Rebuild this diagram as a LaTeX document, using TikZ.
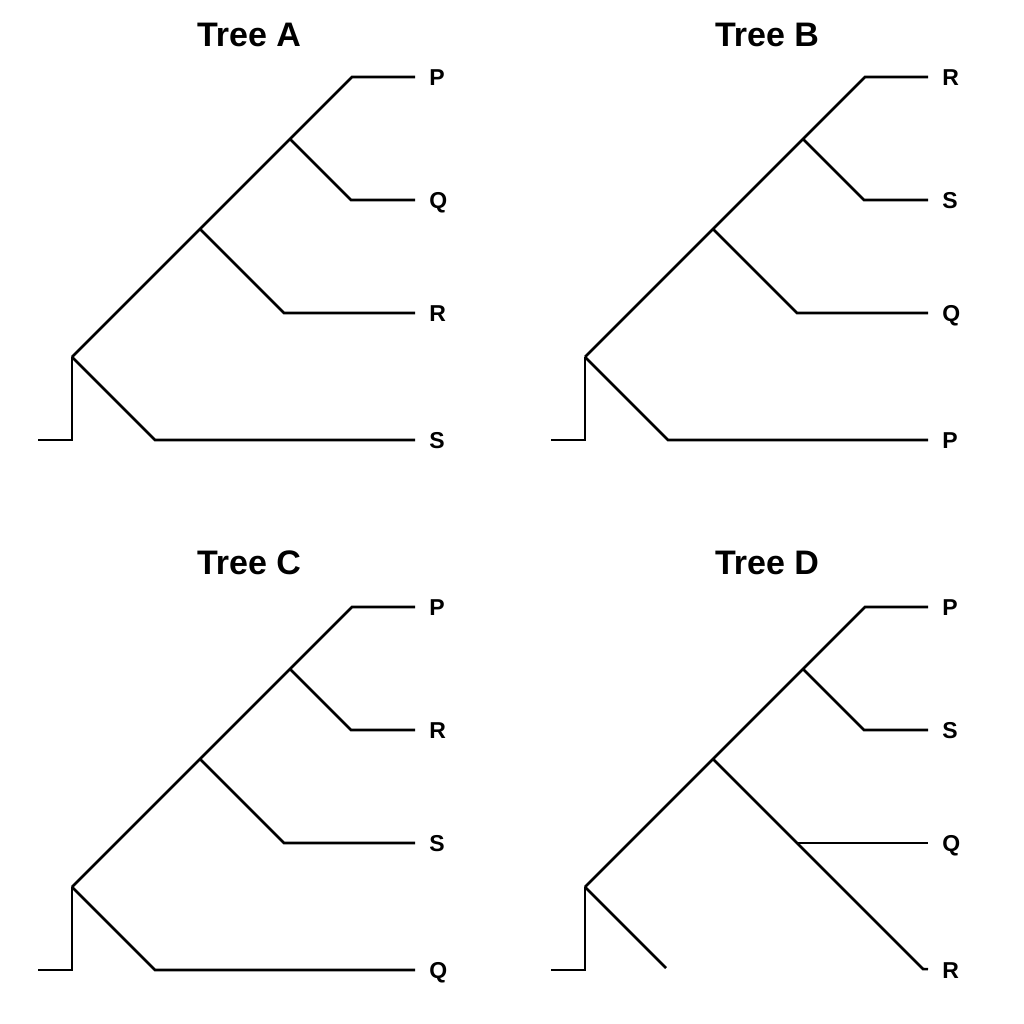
\documentclass[tikz,border=0pt]{standalone}
\usepackage{fontspec}
\setmainfont{Liberation Sans}
\usepackage{tikz}

\begin{document}
\begin{tikzpicture}[x=1pt, y=-1pt, line width=2.6pt,
	title/.style={font=\bfseries\fontsize{34}{40}\selectfont},
	leaf/.style={anchor=west, inner xsep=13pt, inner ysep=0pt, text height=16.5pt, text depth=0pt, font=\bfseries\fontsize{23}{28}\selectfont}]
	\useasboundingbox (0,0) rectangle (1024,1024);
	% Tree A
	\node[title] (titleA) at (249,35) {Tree A};
	\coordinate (a0) at (38,440);
	\coordinate (a1) at (72,357);
	\coordinate (a2) at (200,229);
	\coordinate (a3) at (290,139);
	\coordinate (a4) at (352,77);
	\coordinate (a5) at (155,440);
	\coordinate (a6) at (284,313);
	\coordinate (a7) at (351,200);
	\node[leaf] (aP) at (415,77) {P};
	\node[leaf] (aQ) at (415,200) {Q};
	\node[leaf] (aR) at (415,313) {R};
	\node[leaf] (aS) at (415,440) {S};
	\draw[-] (a0) -| (a1);
	\draw[-] (a1) -- (a2) -- (a3) -- (a4) -- (aP);
	\draw[-] (a1) -- (a5) -- (aS);
	\draw[-] (a2) -- (a6) -- (aR);
	\draw[-] (a3) -- (a7) -- (aQ);
	% Tree B
	\begin{scope}[shift={(513,0)}]
	\node[title] (titleB) at (254,35) {Tree B};
	\coordinate (b0) at (38,440);
	\coordinate (b1) at (72,357);
	\coordinate (b2) at (200,229);
	\coordinate (b3) at (290,139);
	\coordinate (b4) at (352,77);
	\coordinate (b5) at (155,440);
	\coordinate (b6) at (284,313);
	\coordinate (b7) at (351,200);
	\node[leaf] (bR) at (415,77) {R};
	\node[leaf] (bS) at (415,200) {S};
	\node[leaf] (bQ) at (415,313) {Q};
	\node[leaf] (bP) at (415,440) {P};
	\draw[-] (b0) -| (b1);
	\draw[-] (b1) -- (b2) -- (b3) -- (b4) -- (bR);
	\draw[-] (b1) -- (b5) -- (bP);
	\draw[-] (b2) -- (b6) -- (bQ);
	\draw[-] (b3) -- (b7) -- (bS);
	\end{scope}
	% Tree C
	\begin{scope}[shift={(0,530)}]
	\node[title] (titleC) at (249,33) {Tree C};
	\coordinate (c0) at (38,440);
	\coordinate (c1) at (72,357);
	\coordinate (c2) at (200,229);
	\coordinate (c3) at (290,139);
	\coordinate (c4) at (352,77);
	\coordinate (c5) at (155,440);
	\coordinate (c6) at (284,313);
	\coordinate (c7) at (351,200);
	\node[leaf] (cP) at (415,77) {P};
	\node[leaf] (cR) at (415,200) {R};
	\node[leaf] (cS) at (415,313) {S};
	\node[leaf] (cQ) at (415,440) {Q};
	\draw[-] (c0) -| (c1);
	\draw[-] (c1) -- (c2) -- (c3) -- (c4) -- (cP);
	\draw[-] (c1) -- (c5) -- (cQ);
	\draw[-] (c2) -- (c6) -- (cS);
	\draw[-] (c3) -- (c7) -- (cR);
	\end{scope}
	% Tree D
	\begin{scope}[shift={(513,530)}]
	\node[title] (titleD) at (254,33) {Tree D};
	\coordinate (d0) at (38,440);
	\coordinate (d1) at (72,357);
	\coordinate (d2) at (200,229);
	\coordinate (d3) at (290,139);
	\coordinate (d4) at (352,77);
	\coordinate (d5) at (153,438);
	\coordinate (d6) at (284,313);
	\coordinate (d7) at (410,439);
	\coordinate (d8) at (351,200);
	\node[leaf] (dP) at (415,77) {P};
	\node[leaf] (dS) at (415,200) {S};
	\node[leaf] (dQ) at (415,313) {Q};
	\node[leaf] (dR) at (415,440) {R};
	\draw[-] (d0) -| (d1);
	\draw[-] (d1) -- (d2) -- (d3) -- (d4) -- (dP);
	\draw[-] (d1) -- (d5);
	\draw[-] (d3) -- (d8) -- (dS);
	\draw[-] (d2) -- (d6) -- (d7) -- (dR);
	\draw[-] (d6) -- (dQ);
	\end{scope}
\end{tikzpicture}
\end{document}
